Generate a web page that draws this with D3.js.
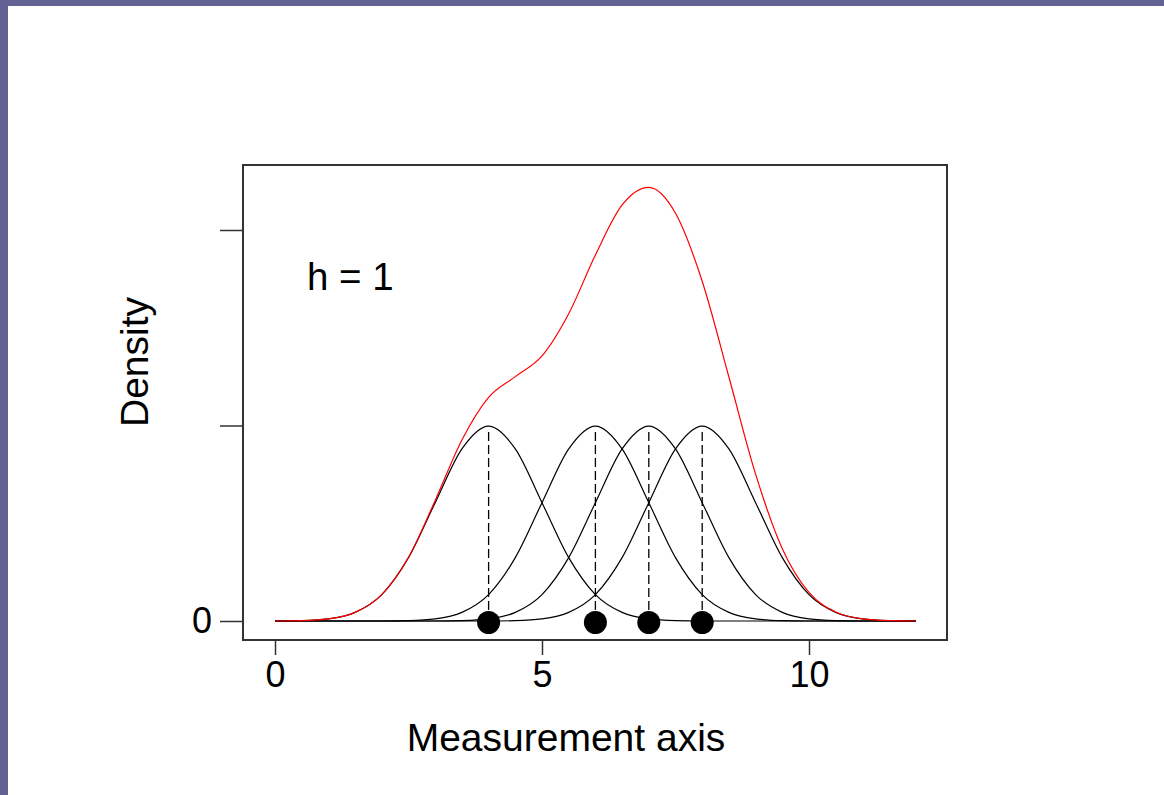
<!DOCTYPE html>
<html>
<head>
<meta charset="utf-8">
<script src="https://cdn.jsdelivr.net/npm/d3@7"></script>
<style>
  html, body { margin: 0; padding: 0; background: #fff; }
  svg { display: block; font-family: "Liberation Sans", Arial, sans-serif; }
</style>
</head>
<body>
<svg id="chart" width="1164" height="795"></svg>
<script>
// observations on the measurement axis
var points = [4, 6, 7, 8];
var bandwidthLabel = "h = 1";

var kernelOffsets = [-4, -3.5, -3, -2.5, -2, -1.5, -1, -0.5, 0, 0.5, 1, 1.5, 2, 2.5, 3, 3.5, 4];
var kernelHeights = [0, 0.0002, 0.0011, 0.0044, 0.0135, 0.0324, 0.0605, 0.088, 0.0997,
                     0.088, 0.0605, 0.0324, 0.0135, 0.0044, 0.0011, 0.0002, 0];

// summed density (red curve), read at steps of 0.5 from 0 to 12
var densityX = [0, 0.5, 1, 1.5, 2, 2.5, 3, 3.5, 4, 4.5, 5, 5.5, 6, 6.5, 7, 7.5, 8, 8.5, 9, 9.5, 10, 10.5, 11, 11.5, 12];
var densityY = [0, 0.0002, 0.0011, 0.0044, 0.0135, 0.0326, 0.0617, 0.0926, 0.1144, 0.125, 0.1356,
                0.1572, 0.1872, 0.2128, 0.2218, 0.2086, 0.1738, 0.1248, 0.0751, 0.037, 0.0146,
                0.0046, 0.0011, 0.0002, 0];

var xTicks = [0, 5, 10];
var yTicks = [0, 0.1, 0.2];
var yTickLabels = ["0", "", ""];

var svg = d3.select("#chart");

// purple slide frame
svg.append("rect").attr("x", 0).attr("y", 0).attr("width", 1164).attr("height", 6).attr("fill", "#626194");
svg.append("rect").attr("x", 0).attr("y", 0).attr("width", 8).attr("height", 795).attr("fill", "#626194");

var box = {left: 243, top: 165, right: 947, bottom: 640};

var x = d3.scaleLinear().domain([0, 10]).range([275, 809]);
var y = d3.scaleLinear().domain([0, 0.1]).range([621, 425.5]);

var line = d3.line()
  .x(function(d) { return x(d[0]); })
  .y(function(d) { return y(d[1]); })
  .curve(d3.curveMonotoneX);

// kernels
points.forEach(function(p) {
  var pts = [];
  if (p - 4 > 0) pts.push([0, 0]);
  kernelOffsets.forEach(function(o, i) { pts.push([p + o, kernelHeights[i]]); });
  if (p + 4 < 12) pts.push([12, 0]);
  svg.append("path")
    .attr("d", line(pts))
    .attr("fill", "none")
    .attr("stroke", "#000")
    .attr("stroke-width", 1.2);
});

// dashed drop lines from each kernel peak
svg.selectAll("line.drop")
  .data(points)
  .enter().append("line")
  .attr("class", "drop")
  .attr("x1", function(d) { return x(d); })
  .attr("x2", function(d) { return x(d); })
  .attr("y1", y(kernelHeights[8]) + 6)
  .attr("y2", y(0))
  .attr("stroke", "#000")
  .attr("stroke-width", 1.3)
  .attr("stroke-dasharray", "9,4");

// density
svg.append("path")
  .attr("d", line(densityX.map(function(v, i) { return [v, densityY[i]]; })))
  .attr("fill", "none")
  .attr("stroke", "#ff0000")
  .attr("stroke-width", 1.2);

// observation dots
svg.selectAll("circle.obs")
  .data(points)
  .enter().append("circle")
  .attr("class", "obs")
  .attr("cx", function(d) { return x(d); })
  .attr("cy", y(0) + 1.5)
  .attr("r", 11.5)
  .attr("fill", "#000");

// plot box
svg.append("rect")
  .attr("x", box.left).attr("y", box.top)
  .attr("width", box.right - box.left).attr("height", box.bottom - box.top)
  .attr("fill", "none").attr("stroke", "#333").attr("stroke-width", 2);

// x axis
var xAxis = d3.axisBottom(x).tickValues(xTicks).tickSize(15).tickPadding(6).tickFormat(d3.format("d"));
var gx = svg.append("g").attr("transform", "translate(0," + box.bottom + ")").call(xAxis);
gx.select(".domain").remove();
gx.selectAll("line").attr("stroke", "#333").attr("stroke-width", 1.5);
gx.selectAll("text").attr("font-size", 36).attr("fill", "#000")
  .attr("font-family", "Liberation Sans, Arial, sans-serif");

// y axis
var yAxis = d3.axisLeft(y).tickValues(yTicks).tickSize(23).tickPadding(8)
  .tickFormat(function(d, i) { return yTickLabels[i]; });
var gy = svg.append("g").attr("transform", "translate(" + box.left + ",0)").call(yAxis);
gy.select(".domain").remove();
gy.selectAll("line").attr("stroke", "#333").attr("stroke-width", 1.5);
gy.selectAll("text").attr("font-size", 36).attr("fill", "#000")
  .attr("font-family", "Liberation Sans, Arial, sans-serif");

// labels
svg.append("text")
  .attr("x", 566).attr("y", 751)
  .attr("text-anchor", "middle")
  .attr("font-size", 39)
  .text("Measurement axis");

svg.append("text")
  .attr("transform", "translate(148,362) rotate(-90)")
  .attr("text-anchor", "middle")
  .attr("font-size", 39)
  .text("Density");

svg.append("text")
  .attr("x", 307).attr("y", 290)
  .attr("font-size", 38.5)
  .text(bandwidthLabel);
</script>
</body>
</html>
